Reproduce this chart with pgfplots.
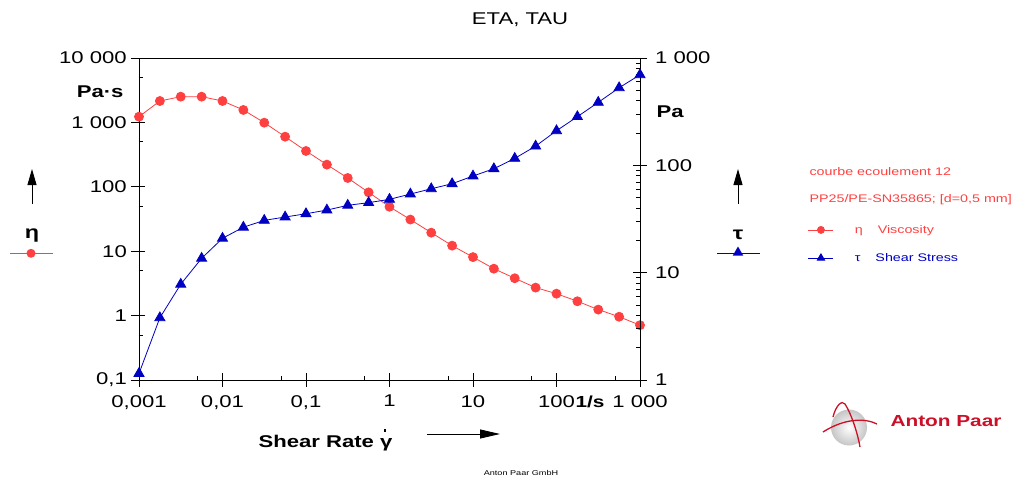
\documentclass[border=0pt]{standalone}
\usepackage{fontspec}
\setmainfont{Liberation Sans}[FakeStretch=1.3]
\usepackage{pgfplots}
\usepackage{pgfplotstable}
\pgfplotsset{compat=1.18}
\usetikzlibrary{arrows.meta,shapes.geometric}
\definecolor{etared}{RGB}{255,64,64}
\definecolor{taublue}{RGB}{0,0,195}
\definecolor{apred}{RGB}{204,16,40}

\pgfplotstableread{
x eta tau
0.001 1227 1.15
0.0017783 2150 3.8
0.0031623 2510 7.8
0.0056234 2510 13.6
0.01 2150 20.9
0.017783 1560 26.5
0.031623 990 30.7
0.056234 600 33
0.1 360 35.4
0.17783 221 38.3
0.31623 137 42.4
0.56234 82 44.9
1 49 48.2
1.7783 31 54
3.1623 19.4 60.5
5.6234 12.2 67.4
10 8.1 79.5
17.783 5.35 93
31.623 3.8 116
56.234 2.72 151
100 2.19 210
177.83 1.67 284
316.23 1.24 386
562.34 0.96 528
1000 0.71 698
}\data

\newcommand{\tf}{\fontsize{17}{20}\selectfont}
\newcommand{\lf}{\fontsize{11}{13}\selectfont}

\begin{document}
\begin{tikzpicture}
\useasboundingbox (0pt,0pt) rectangle (1021pt,-479pt);
\begin{axis}[
  at={(139pt,-380pt)}, anchor=south west,
  width=501pt, height=322pt, scale only axis,
  xmode=log, ymode=log, xmin=0.001, xmax=1000,
  ymin=0.1, ymax=10000,
  tick align=inside, major tick length=14pt, minor tick length=4pt,
  tick style={black, line width=0.7pt},
  axis line style={black, line width=0.8pt},
  tick label style={font=\tf, inner sep=0pt},
  clip=false,
  tick pos=left,
  xtick={0.001,0.01,0.1,1,10,100,1000},
  xticklabels={{0,001},{0,01},{0,1},1,10,100,{1 000}},
  minor xtick={0.005,0.05,0.5,5,50,500},
  ytick={0.1,1,10,100,1000,10000},
  yticklabels={{0,1},1,10,100,{1 000},{10 000}},
  minor ytick={0.5,5,50,500,5000},
  major x tick style={yshift=-7pt},
  major y tick style={xshift=-8pt},
  xticklabel style={yshift=-15pt},
  yticklabel style={xshift=-12pt},
]
\addplot[etared, line width=0.8pt, mark=*, mark size=4.5pt, mark options={solid, fill=etared, draw=etared}] table[x=x, y=eta]{\data};
\end{axis}
\begin{axis}[
  at={(139pt,-380pt)}, anchor=south west,
  width=501pt, height=322pt, scale only axis,
  xmode=log, ymode=log, xmin=0.001, xmax=1000,
  ymin=1, ymax=1000,
  tick align=inside, major tick length=14pt, minor tick length=4pt,
  tick style={black, line width=0.7pt},
  axis line style={black, line width=0.8pt},
  tick label style={font=\tf, inner sep=0pt},
  clip=false,
  axis x line=none, axis y line*=right,
  ytick={1,10,100,1000},
  yticklabels={1,10,100,{1 000}},
  minor ytick={2,3,4,5,6,7,8,9,20,30,40,50,60,70,80,90,200,300,400,500,600,700,800,900},
  major y tick style={xshift=7pt},
  yticklabel style={xshift=15pt},
  legend style={at={(1.335,0.4814)}, anchor=north west, draw=none, fill=none,
    inner sep=0pt, font=\lf, row sep=18.7pt,
    nodes={inner sep=0pt},
    /tikz/every odd column/.append style={column sep=21pt}},
  legend cell align=left,
  legend image code/.code={\draw[mark repeat=2, mark phase=2, #1] plot coordinates {(0pt,0pt) (12.5pt,0pt) (25pt,0pt)};},
]
\addplot[taublue, line width=0.8pt, mark=triangle*, mark size=5.8pt, mark options={solid, fill=taublue, draw=taublue}, forget plot] table[x=x, y=tau]{\data};
\addlegendimage{etared, line width=0.8pt, mark=*, mark size=3.5pt, mark options={fill=etared}}
\addlegendentry{\textcolor{etared}{η\hspace{15pt}Viscosity}}
\addlegendimage{taublue, line width=0.8pt, mark=triangle*, mark size=4.3pt, mark options={fill=taublue}}
\addlegendentry{\textcolor{taublue}{τ\hspace{15pt}Shear Stress}}
\end{axis}

% title and labels
\node[anchor=base, font=\fontsize{17}{19}\selectfont] at (520pt,-24pt) {ETA, TAU};
\node[anchor=base east, font=\bfseries\tf] at (127pt,-97pt) {Pa·s};
\node[anchor=base west, font=\bfseries\tf] at (653pt,-117.5pt) {Pa};
\node[anchor=base east, font=\bfseries\fontsize{16}{18}\selectfont] at (608pt,-407pt) {1/s};
\node[anchor=base west, font=\bfseries\tf] at (255pt,-447pt) {Shear Rate \makebox[0pt][l]{\makebox[0.55em][c]{\raisebox{0.9em}{\rule{2.3pt}{2.3pt}}}}γ};
\draw[-{Triangle[length=20pt,width=9pt]}, line width=0.9pt] (427pt,-434pt) -- (500pt,-434pt);

% left side eta label
\draw[-{Triangle[length=16pt,width=9pt]}, line width=0.9pt] (32pt,-204pt) -- (32pt,-169pt);
\node[font=\bfseries\fontsize{18}{20}\selectfont] at (32pt,-236pt) {η};
\draw[etared, line width=0.8pt] (10pt,-253.3pt) -- (53pt,-253.3pt);
\node[circle, fill=etared, inner sep=0pt, minimum size=9pt] at (31pt,-253.3pt) {};

% right side tau label
\draw[-{Triangle[length=16pt,width=9pt]}, line width=0.9pt] (738pt,-204pt) -- (738pt,-169pt);
\node[font=\bfseries\fontsize{18}{20}\selectfont] at (738pt,-235pt) {τ};
\draw[taublue, line width=0.8pt] (717pt,-253.3pt) -- (760pt,-253.3pt);
\node[regular polygon, regular polygon sides=3, fill=taublue, inner sep=0pt, minimum size=12pt] at (738pt,-252.5pt) {};

% legend header
\node[anchor=west, text=etared, font=\lf] at (806pt,-172pt) {courbe ecoulement 12};
\node[anchor=west, text=etared, font=\lf] at (806pt,-200pt) {PP25/PE-SN35865; [d=0,5 mm]};

% footer
\node[font=\fontsize{7}{8}\selectfont] at (521pt,-473pt) {Anton Paar GmbH};

% logo
\shade[inner color=white, outer color=gray!45] (849pt,-427.5pt) circle (18pt);
\draw[apred, line width=1.3pt] (823pt,-432pt) .. controls (845pt,-418pt) and (865pt,-418pt) .. (877pt,-424pt);
\draw[apred, line width=1.3pt] (833pt,-417pt) .. controls (836pt,-405pt) and (842pt,-400pt) .. (845pt,-404pt) .. controls (852pt,-415pt) and (858pt,-435pt) .. (860pt,-447pt);
\node[anchor=west, text=apred, font=\bfseries\fontsize{16}{18}\selectfont] at (887pt,-421pt) {Anton Paar};
\end{tikzpicture}
\end{document}
